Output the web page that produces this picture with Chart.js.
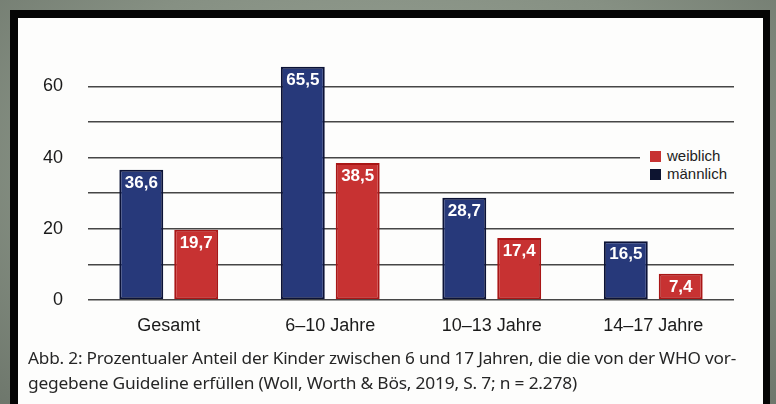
<!DOCTYPE html>
<html>
<head>
<meta charset="utf-8">
<script src="https://cdn.jsdelivr.net/npm/chart.js@4.4.1/dist/chart.umd.min.js"></script>
<style>
  html, body { margin: 0; padding: 0; }
  body { width: 776px; height: 404px; overflow: hidden; position: relative;
         background: radial-gradient(ellipse at 50% 40%, #9aa496 0%, #869083 60%, #6e776c 100%); }
  #frame { position: absolute; left: 10px; top: 10px; width: 760px; height: 420px; background: #050505; }
  #panel { position: absolute; left: 18px; top: 18px; width: 745px; height: 410px; background: #fdfdfc; }
  #wrap { position: absolute; left: 0; top: 0; width: 776px; height: 404px; }
  #legend { position: absolute; left: 640px; top: 146px; width: 96px; height: 40px; background: #fdfdfc;
            font-family: "Liberation Sans", Arial, sans-serif; font-size: 15px; color: #222; }
  .li { position: absolute; left: 10px; height: 18px; line-height: 18px; white-space: nowrap; }
  .sw { display: inline-block; width: 11px; height: 11px; vertical-align: -1px; margin-right: 6px; }
  .cap { position: absolute; left: 28px; white-space: nowrap; transform-origin: 0 0;
         font-family: "Noto Sans", "Open Sans", sans-serif; font-size: 17px; color: #262626; letter-spacing: -0.2px; }
</style>
</head>
<body>
<div id="frame"></div>
<div id="panel"></div>
<div id="wrap"><canvas id="c" width="776" height="404"></canvas></div>
<div id="legend"></div>
<div class="cap" id="cap1" style="top:346px"></div>
<div class="cap" id="cap2" style="top:371px"></div>
<script>
const categories = ['Gesamt', '6–10 Jahre', '10–13 Jahre', '14–17 Jahre'];
const maennlich = [36.6, 65.5, 28.7, 16.5];
const weiblich = [19.7, 38.5, 17.4, 7.4];
const seriesNames = ['männlich', 'weiblich'];
const yTickLabels = [0, 20, 40, 60];
const captionLines = [
  'Abb. 2: Prozentualer Anteil der Kinder zwischen 6 und 17 Jahren, die die von der WHO vor-',
  'gegebene Guideline erfüllen (Woll, Worth & Bös, 2019, S. 7; n = 2.278)'
];

const blueFill = '#27397a', blueBorder = '#0b1236';
const redFill = '#c73232', redBorder = '#a91616';

const fmt = v => v.toFixed(1).replace('.', ',');

const valueLabels = {
  id: 'valueLabels',
  afterDatasetsDraw(chart) {
    const ctx = chart.ctx;
    ctx.save();
    ctx.fillStyle = '#ffffff';
    ctx.font = 'bold 17px "Liberation Sans Narrow", "Liberation Sans", Arial, sans-serif';
    ctx.textAlign = 'center';
    ctx.textBaseline = 'top';
    chart.data.datasets.forEach((ds, i) => {
      chart.getDatasetMeta(i).data.forEach((bar, j) => {
        ctx.fillText(fmt(ds.data[j]), bar.x, bar.y + 5);
      });
    });
    ctx.restore();
  }
};

new Chart(document.getElementById('c'), {
  type: 'bar',
  data: {
    labels: categories,
    datasets: [
      { label: seriesNames[0], data: maennlich, backgroundColor: blueFill, borderColor: blueBorder,
        borderWidth: 2, borderSkipped: false },
      { label: seriesNames[1], data: weiblich, backgroundColor: redFill, borderColor: redBorder,
        borderWidth: 2, borderSkipped: false }
    ]
  },
  options: {
    responsive: false,
    animation: false,
    events: [],
    layout: { padding: { left: 41, right: 42, top: 65, bottom: 66 } },
    datasets: { bar: { categoryPercentage: 0.68, barPercentage: 0.8 } },
    plugins: { legend: { display: false }, tooltip: { enabled: false } },
    scales: {
      x: {
        grid: { display: false },
        border: { display: false },
        ticks: { color: '#1a1a1a', padding: 7, maxRotation: 0,
                 font: { family: '"Liberation Sans", Arial, sans-serif', size: 18 } },
        afterFit(axis) { axis.height = 38; }
      },
      y: {
        min: 0, max: 66,
        afterBuildTicks(axis) { axis.ticks = axis.ticks.filter(t => t.value % 10 === 0); },
        grid: { color: 'rgba(50,50,50,0.9)', lineWidth: 1.6, drawTicks: false },
        border: { display: false },
        ticks: { stepSize: 10, padding: 25, color: '#1a1a1a',
                 font: { family: '"Liberation Sans", Arial, sans-serif', size: 18 },
                 callback: v => yTickLabels.includes(v) ? String(v) : '' },
        afterFit(axis) { axis.width = 47; }
      }
    }
  },
  plugins: [valueLabels]
});

// legend (weiblich first, as in the reference)
const legend = document.getElementById('legend');
[[seriesNames[1], redFill, 0], [seriesNames[0], '#0d1430', 18]].forEach(([name, col, top]) => {
  const d = document.createElement('div');
  d.className = 'li';
  d.style.top = (top + 1) + 'px';
  d.innerHTML = '<span class="sw" style="background:' + col + '"></span>' + name;
  legend.appendChild(d);
});

// caption
const capTargets = [708, 549];
captionLines.forEach((t, i) => {
  const el = document.getElementById('cap' + (i + 1));
  el.textContent = t;
  const w = el.getBoundingClientRect().width;
  el.style.transform = 'scaleX(' + (capTargets[i] / w) + ')';
});
</script>
</body>
</html>
